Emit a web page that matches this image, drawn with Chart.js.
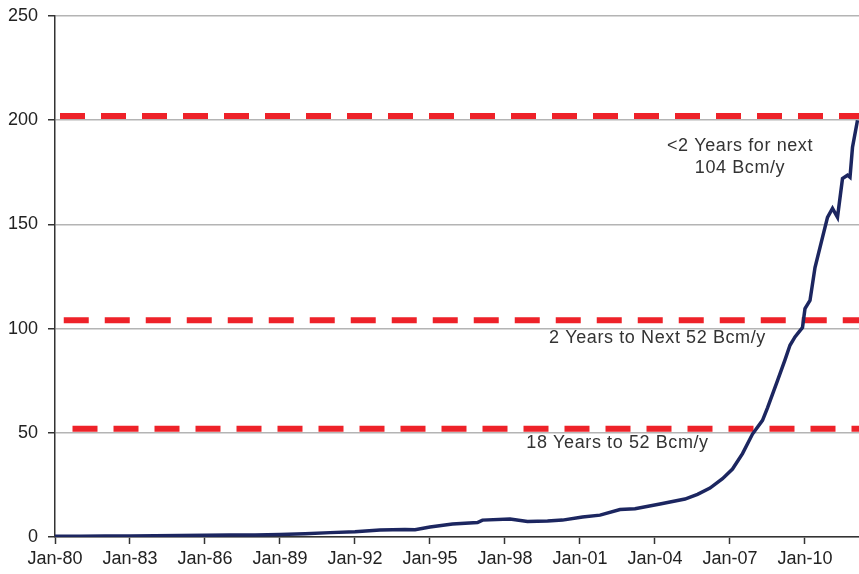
<!DOCTYPE html>
<html>
<head>
<meta charset="utf-8">
<script src="https://cdn.jsdelivr.net/npm/chart.js@4/dist/chart.umd.min.js"></script>
<style>
  body { margin: 0; background: #fff; }
  #wrap { width: 859px; height: 574px; }
</style>
</head>
<body>
<div id="wrap"><canvas id="lineChart" width="859" height="574"></canvas></div>
<script>
// decimal years and values
var years = [1980, 1981, 1982, 1983, 1984, 1985, 1986, 1987, 1988, 1989,
  1990, 1991, 1992, 1993, 1994, 1994.4, 1995, 1995.9, 1996.9, 1997.1,
  1998.2, 1998.9, 1999.7, 2000.3, 2001.1, 2001.8, 2002.6, 2003.2, 2004.2, 2005.2,
  2005.7, 2006.2, 2006.7, 2007.1, 2007.5, 2007.9, 2008.3, 2008.5, 2008.9, 2009.2,
  2009.4, 2009.6, 2009.8, 2009.9, 2010.0, 2010.2, 2010.4, 2010.7, 2010.9, 2011.1,
  2011.3, 2011.5, 2011.7, 2011.8, 2011.9, 2012.1];
var values = [0.3, 0.4, 0.5, 0.5, 0.6, 0.7, 0.8, 0.9, 1.0, 1.2,
  1.6, 2.1, 2.5, 3.3, 3.6, 3.5, 4.8, 6.2, 6.9, 8.1,
  8.6, 7.4, 7.7, 8.1, 9.6, 10.5, 13.2, 13.6, 15.8, 18.2,
  20.5, 23.5, 28, 32.6, 40, 49.4, 56, 62, 75, 85,
  92, 96, 99, 100.5, 109.6, 113.5, 129.3, 143.8, 153.4, 157.7,
  153.4, 172, 173.6, 172.6, 187, 200];

// x axis tick years (labelled Jan-yy)
var tickYears = [1980, 1983, 1986, 1989, 1992, 1995, 1998, 2001, 2004, 2007, 2010];

// red threshold lines
var levels = [202, 104, 52];
var levelStart = [1980.2, 1980.35, 1980.7];

// notes on the chart
var noteText = ["<2 Years for next", "104 Bcm/y", "2 Years to Next 52 Bcm/y", "18 Years to 52 Bcm/y"];
var noteYear = [2007.4, 2007.4, 2004.1, 2002.5];
var noteValue = [187.6, 177, 95.5, 45.1];

var xMin = 1980, xMax = 2012.16;

var series = [];
for (var i = 0; i < years.length; i++) {
  series.push({x: years[i], y: values[i]});
}

var datasets = [{
  data: series,
  borderColor: "#1c2660",
  borderWidth: 3.5,
  pointRadius: 0,
  tension: 0
}];
for (var j = 0; j < levels.length; j++) {
  datasets.push({
    data: [{x: levelStart[j], y: levels[j]}, {x: xMax, y: levels[j]}],
    borderColor: "#ee2229",
    borderWidth: 6,
    borderDash: [25, 16],
    borderCapStyle: "butt",
    pointRadius: 0
  });
}

var notesPlugin = {
  id: "notes",
  afterDatasetsDraw: function(chart) {
    var ctx = chart.ctx;
    var xs = chart.scales.x, ys = chart.scales.y;
    ctx.save();
    ctx.font = "18px 'Liberation Sans', Arial, sans-serif";
    ctx.fillStyle = "#333";
    ctx.textAlign = "center";
    ctx.textBaseline = "middle";
    if ("letterSpacing" in ctx) ctx.letterSpacing = "0.6px";
    for (var k = 0; k < noteText.length; k++) {
      ctx.fillText(noteText[k], xs.getPixelForValue(noteYear[k]), ys.getPixelForValue(noteValue[k]));
    }
    ctx.restore();
  }
};

var tickFont = {family: "'Liberation Sans', Arial, sans-serif", size: 18};

new Chart(document.getElementById("lineChart").getContext("2d"), {
  type: "line",
  data: {datasets: datasets},
  options: {
    responsive: false,
    animation: false,
    layout: {padding: {top: 16, right: 0, left: 0, bottom: 0}},
    plugins: {legend: {display: false}, tooltip: {enabled: false}},
    scales: {
      x: {
        type: "linear",
        min: xMin,
        max: xMax,
        ticks: {
          color: "#222",
          font: tickFont,
          padding: 4,
          maxRotation: 0,
          autoSkip: false,
          callback: function(v) {
            var yy = Math.round(v) % 100;
            return "Jan-" + (yy < 10 ? "0" + yy : yy);
          }
        },
        afterBuildTicks: function(scale) {
          scale.ticks = tickYears.map(function(y) { return {value: y}; });
        },
        afterFit: function(scale) {
          scale.height = 37;
          scale.paddingLeft = 0;
          scale.paddingRight = 0;
        },
        grid: {drawOnChartArea: false, tickLength: 7, tickColor: "#333", tickWidth: 1.5},
        border: {color: "#333", width: 1.5}
      },
      y: {
        min: 0,
        max: 250,
        ticks: {stepSize: 50, color: "#222", font: tickFont, padding: 10},
        afterFit: function(scale) {
          scale.width = 55;
          scale.paddingTop = 0;
          scale.paddingBottom = 0;
        },
        grid: {color: "#b4b4b4", lineWidth: 1.5, tickLength: 7, tickColor: "#333", tickWidth: 1.5},
        border: {color: "#333", width: 1.5}
      }
    }
  },
  plugins: [notesPlugin]
});
</script>
</body>
</html>
